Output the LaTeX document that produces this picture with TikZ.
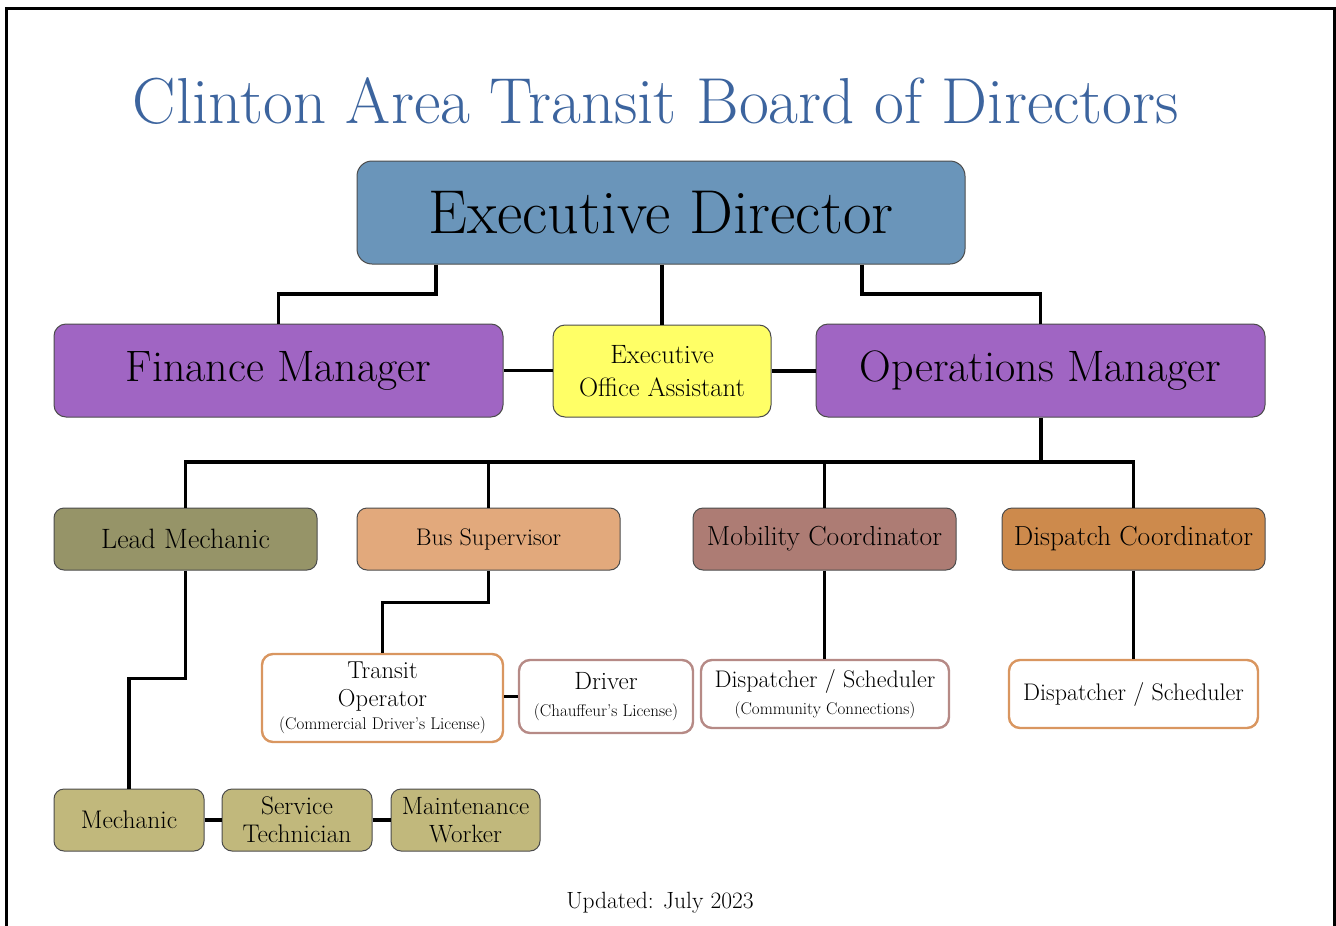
\documentclass[tikz,border=0pt]{standalone}
\usepackage{fontspec}
\usepackage{tikz}
\usetikzlibrary{positioning}
\definecolor{titleblue}{RGB}{60,100,158}
\definecolor{edblue}{RGB}{106,149,186}
\definecolor{mgrpurple}{RGB}{160,101,195}
\definecolor{asstyellow}{RGB}{255,255,102}
\definecolor{mecholive}{RGB}{150,148,104}
\definecolor{buspeach}{RGB}{226,169,124}
\definecolor{mobrose}{RGB}{173,124,116}
\definecolor{dispbrown}{RGB}{205,138,76}
\definecolor{shopkhaki}{RGB}{193,184,124}
\definecolor{edgeorange}{RGB}{217,150,96}
\definecolor{edgerose}{RGB}{182,138,134}
\tikzset{
  post/.style={draw=black!70, line width=1pt, rounded corners=12pt, align=center, inner sep=0pt},
  staff/.style={fill=white, line width=2.4pt, rounded corners=11pt, align=center, inner sep=0pt},
  conn/.style={line width=3.8pt, black},
}
\newcommand\fs[2]{\fontsize{#1}{#2}\selectfont}
\newcommand\sub[1]{{\fs{17}{21}#1}}

\begin{document}
\begin{tikzpicture}[x=1pt,y=-1pt]
\useasboundingbox (0,0) rectangle (1336,926);
\draw[line width=3pt] (6,926) -- (6,8) -- (1334,8) -- (1334,926);

\node[font=\fs{65}{70}, text=titleblue] (title) at (656,101) {Clinton Area Transit Board of Directors};

% top
\node[post, fill=edblue, rounded corners=15pt, minimum width=608pt, minimum height=103pt, font=\fs{62}{66}] (ed) at (661,212.5) {Executive Director};

% managers
\node[post, fill=mgrpurple, minimum width=449pt, minimum height=93pt, font=\fs{44}{48}] (fin) at (278.5,370.5) {Finance Manager};
\node[post, fill=asstyellow, minimum width=218pt, minimum height=92pt, font=\fs{26.5}{33}] (eoa) at (662,371) {Executive\\Office Assistant};
\node[post, fill=mgrpurple, minimum width=449pt, minimum height=93pt, font=\fs{44}{48}] (om) at (1040.5,370.5) {Operations Manager};

% coordinators
\node[post, fill=mecholive, rounded corners=10pt, minimum width=263pt, minimum height=62pt, font=\fs{28}{32}] (lm) at (185.5,539) {Lead Mechanic};
\node[post, fill=buspeach, rounded corners=10pt, minimum width=263pt, minimum height=62pt, font=\fs{24}{28}] (bs) at (488.5,539) {Bus Supervisor};
\node[post, fill=mobrose, rounded corners=10pt, minimum width=263pt, minimum height=62pt, font=\fs{27.5}{32}] (mc) at (824.5,539) {Mobility Coordinator};
\node[post, fill=dispbrown, rounded corners=10pt, minimum width=263pt, minimum height=62pt, font=\fs{27.5}{32}] (dc) at (1133.5,539) {Dispatch Coordinator};

% staff
\node[staff, draw=edgeorange, minimum width=241pt, minimum height=88pt, font=\fs{24.5}{28}] (to) at (382.5,698) {Transit\\Operator\\[-5pt]\sub{(Commercial Driver's License)}};
\node[staff, draw=edgerose, minimum width=174pt, minimum height=73pt, font=\fs{25}{27}] (dr) at (606,696.5) {Driver\\\sub{(Chauffeur's License)}};
\node[staff, draw=edgerose, minimum width=248pt, minimum height=68pt, font=\fs{24}{27}] (ds1) at (825,694) {Dispatcher / Scheduler\\\sub{(Community Connections)}};
\node[staff, draw=edgeorange, minimum width=249pt, minimum height=68pt, font=\fs{24}{28}] (ds2) at (1133.5,694) {Dispatcher / Scheduler};

% shop
\node[post, fill=shopkhaki, rounded corners=10pt, minimum width=150pt, minimum height=62pt, font=\fs{25.5}{28}] (me) at (129,820) {Mechanic};
\node[post, fill=shopkhaki, rounded corners=10pt, minimum width=150pt, minimum height=62pt, font=\fs{25.5}{28}] (st) at (297,820) {Service\\Technician};
\node[post, fill=shopkhaki, rounded corners=10pt, minimum width=149pt, minimum height=62pt, font=\fs{25}{28}] (mw) at (465.5,820) {Maintenance\\Worker};

\node[font=\fs{23.5}{28}] (upd) at (660,903) {Updated: July 2023};

% lines
\coordinate (edl) at (436,294);
\coordinate (edr) at (862,294);
\coordinate (bus) at (1041,462);
\draw[conn] (ed.south -| edl) -- (edl) -| (fin.north);
\draw[conn] (ed.south -| eoa.north) -- (eoa.north);
\draw[conn] (ed.south -| edr) -- (edr) -| (om.north);
\draw[conn] (fin.east) -- (fin.east -| eoa.west);
\draw[conn] (om.west |- eoa.east) -- (eoa.east);
\draw[conn] (om.south -| bus) -- (bus);
\draw[conn] (lm.north) |- (bus) -| (dc.north);
\draw[conn] (bs.north) -- (bs.north |- bus);
\draw[conn] (mc.north) -- (mc.north |- bus);
\draw[conn] (bs.south) -- ++(0,32) -| (to.north);
\draw[conn] (dr.west -| to.east) -- (dr.west);
\draw[conn] (mc.south) -- (mc.south |- ds1.north);
\draw[conn] (dc.south) -- (ds2.north);
\draw[conn] (lm.south) -- ++(0,108) -| (me.north);
\draw[conn] (me.east) -- (st.west);
\draw[conn] (st.east) -- (mw.west);

\end{tikzpicture}
\end{document}
